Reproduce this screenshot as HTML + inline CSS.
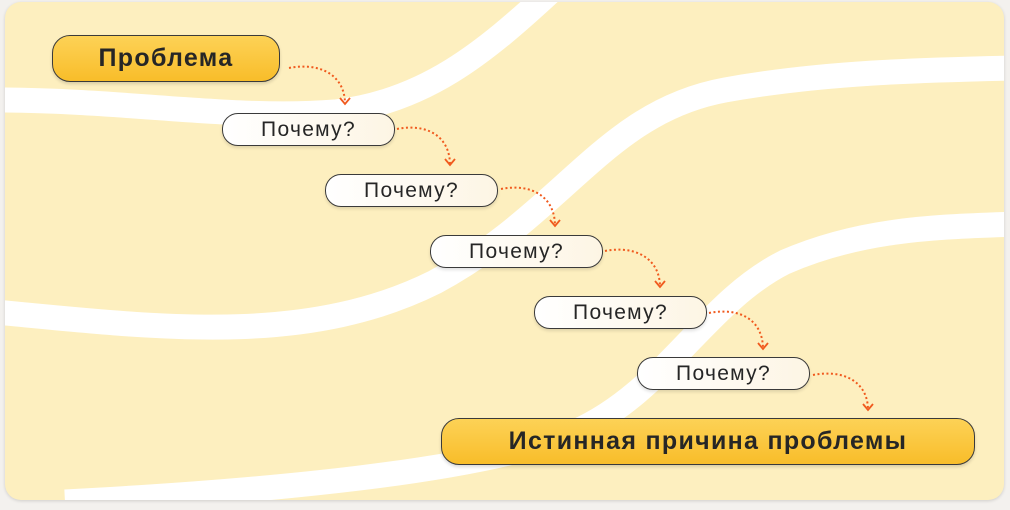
<!DOCTYPE html>
<html><head><meta charset="utf-8"><style>
html,body{margin:0;padding:0;background:#f3f1ee;}
body{width:1010px;height:510px;position:relative;overflow:hidden;font-family:"Liberation Sans",sans-serif;}
.card{position:absolute;left:5px;top:2px;width:999px;height:498px;border-radius:16px;background:#fdefbf;overflow:hidden;box-shadow:0 1px 3px rgba(0,0,0,0.15);}
.n{position:absolute;box-sizing:border-box;border:1.5px solid #3a3a3a;display:flex;align-items:center;justify-content:center;color:#262626;white-space:nowrap;}
.y{background:linear-gradient(#fdd256,#f8bd2a);border-radius:18px;font-weight:bold;font-size:25px;letter-spacing:1.3px;box-shadow:0 2px 3px rgba(0,0,0,0.15);}
.w{background:linear-gradient(90deg,#fff,#fdf5e4);border-radius:16px;font-size:21px;letter-spacing:1.3px;height:33px;width:173px;box-shadow:0 2px 3px rgba(0,0,0,0.12);}
svg{position:absolute;left:0;top:0;}
</style></head><body>
<div class="card">
<svg width="999" height="498">
<g fill="none" stroke="#fff" stroke-width="25">
<path d="M-10,98 C120,98 230,118 330,110 C420,100 480,50 545,-10"/>
<path d="M-10,310 C150,325 300,345 430,280 C560,210 600,110 720,88 C820,70 920,68 1010,66"/>
<path d="M60,500 C250,490 480,470 570,430 C660,390 700,300 780,260 C860,225 940,225 1010,222"/>
</g>
</svg>
</div>
<svg width="1010" height="510">
<g fill="none" stroke="#f05a1e" stroke-width="2" stroke-dasharray="2,2.5">
<path d="M289,68 C320,62 345,75 345,104" />
<path d="M397,129 C428,123 450,137 450,165" />
<path d="M501,189 C532,183 555,197 555,226" />
<path d="M605,251 C636,245 660,259 660,287" />
<path d="M709,313 C740,307 763,320 763,349" />
<path d="M813,375 C844,369 868,382 868,410" />
</g>
<g fill="none" stroke="#f05a1e" stroke-width="1.8">
<path d="M340,98 L345,104 L350,98"/><path d="M445,159 L450,165 L455,159"/><path d="M550,220 L555,226 L560,220"/>
<path d="M655,281 L660,287 L665,281"/><path d="M758,343 L763,349 L768,343"/><path d="M863,404 L868,410 L873,404"/>
</g>
</svg>
<div class="n y" style="left:52px;top:35px;width:228px;height:47px;">Проблема</div>
<div class="n w" style="left:222px;top:113px;">Почему?</div>
<div class="n w" style="left:325px;top:174px;">Почему?</div>
<div class="n w" style="left:430px;top:235px;">Почему?</div>
<div class="n w" style="left:534px;top:296px;">Почему?</div>
<div class="n w" style="left:637px;top:357px;">Почему?</div>
<div class="n y" style="left:441px;top:418px;width:534px;height:47px;">Истинная причина проблемы</div>
</body></html>
